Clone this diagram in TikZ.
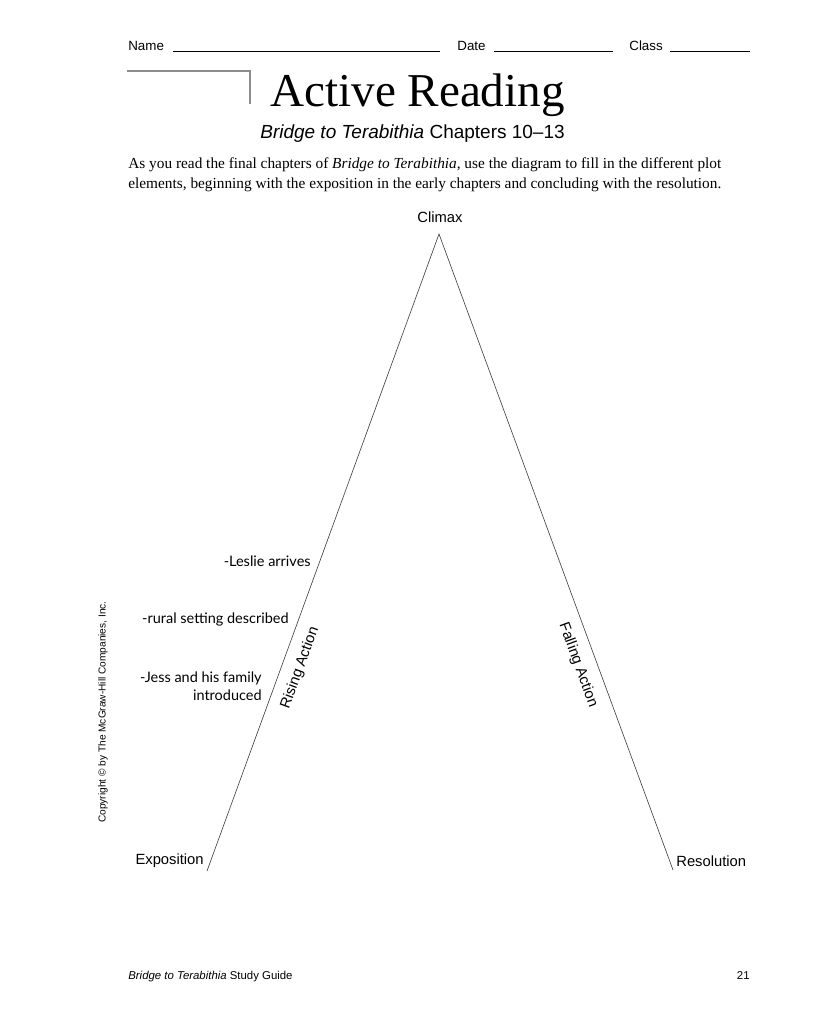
\documentclass[tikz,border=0pt]{standalone}
\usepackage{fontspec}
\setmainfont{Liberation Serif}
\setsansfont{Liberation Sans}
\newfontfamily\handfont{Lato}
\usetikzlibrary{positioning}

\begin{document}
\begin{tikzpicture}[x=0.025cm, y=-0.025cm, line width=0.5pt,
    header/.style={font=\sffamily\fontsize{9.5}{11}\selectfont, inner sep=0pt},
    plotlabel/.style={font=\sffamily\fontsize{10.5}{12}\selectfont, inner sep=0pt},
    hand/.style={font=\handfont\fontsize{10.3}{13}\selectfont, inner sep=0pt, align=right},
    blank/.style={line width=0.6pt},
    plotline/.style={black!75, line width=0.45pt}]
    \useasboundingbox (0,0) rectangle (818,1023);

    % Name, date and class blanks
    \node[header, anchor=base west] (name) at (128,51) {Name};
    \coordinate (nameend) at (440,51);
    \draw[blank] ([xshift=6pt]name.base east) -- (nameend);
    \node[header, anchor=base west] (date) at (457,51) {Date};
    \coordinate (dateend) at (613,51);
    \draw[blank] ([xshift=6pt]date.base east) -- (dateend);
    \node[header, anchor=base west] (class) at (629,51) {Class};
    \coordinate (classend) at (750,51);
    \draw[blank] ([xshift=5pt]class.base east) -- (classend);

    % Title corner mark
    \draw[black!45, line width=0.8pt] (127,71) -- (250,71) -- (250,104);

    % Title and subtitle
    \node[anchor=base west, inner sep=0pt, font=\fontsize{33.5}{38}\selectfont] (title) at (270,107) {Active Reading};
    \node[anchor=base west, inner sep=0pt, font=\sffamily\fontsize{13.5}{16}\selectfont] (subtitle) at (260,139) {\itshape Bridge to Terabithia\upshape{} Chapters 10--13};

    % Directions
    \node[anchor=north west, inner sep=0pt, align=left, font=\fontsize{10.9}{14.2}\selectfont] (directions) at (128,157)
        {As you read the final chapters of \textit{Bridge to Terabithia}, use the diagram to fill in the different plot\\
         elements, beginning with the exposition in the early chapters and concluding with the resolution.};

    % Plot diagram
    \coordinate (top) at (439,234);
    \coordinate (left) at (207,871);
    \coordinate (right) at (673,870);
    \draw[plotline] (left) -- (top) -- (right);

    \node[plotlabel] (climax) at (440,217) {Climax};
    \node[plotlabel, anchor=east] (exposition) at (204,861) {Exposition};
    \node[plotlabel, anchor=west] (resolution) at (676,861) {Resolution};
    \node[plotlabel, rotate=70] (rising) at (300,668) {Rising Action};
    \node[plotlabel, rotate=-70] (falling) at (578,665) {Falling Action};

    % Handwritten notes
    \node[hand, anchor=base east] (leslie) at (311,566) {-Leslie arrives};
    \node[hand, anchor=base east] (rural) at (289,623) {-rural setting described};
    \node[hand, anchor=east] (jess) at (262,686) {-Jess and his family\\introduced};

    % Copyright and footer
    \node[rotate=90, inner sep=0pt, font=\sffamily\fontsize{7.2}{8}\selectfont] (copyright) at (103,712)
        {Copyright \textcopyright{} by The McGraw-Hill Companies, Inc.};
    \node[anchor=base west, inner sep=0pt, font=\sffamily\fontsize{8.1}{10}\selectfont] (footer) at (128,979)
        {\itshape Bridge to Terabithia\upshape{} Study Guide};
    \node[anchor=base east, inner sep=0pt, font=\sffamily\fontsize{8.1}{10}\selectfont] (page) at (750,979) {21};
\end{tikzpicture}
\end{document}
